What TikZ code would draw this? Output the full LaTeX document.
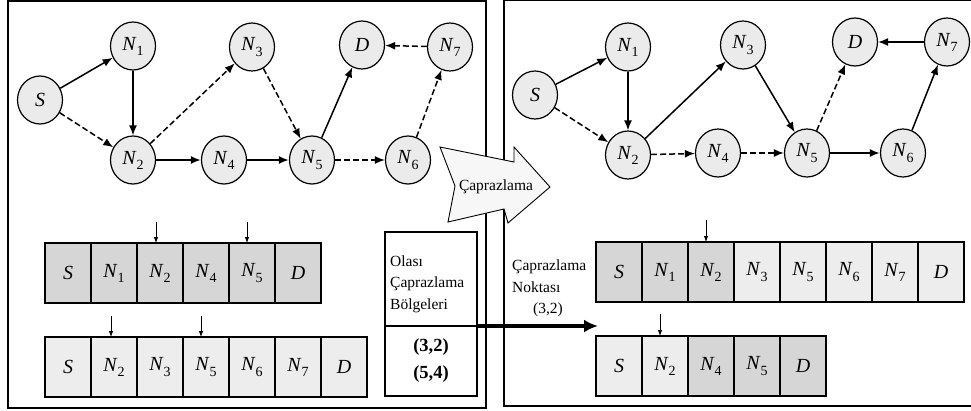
\documentclass[tikz,border=0pt]{standalone}
\usepackage{fontspec}
\setmainfont{Liberation Serif}
\usetikzlibrary{shapes.geometric,arrows.meta,calc}
\newcommand{\nn}[1]{\textit{N}\kern0.2pt\raisebox{-0.55ex}{\fontsize{14}{14}\selectfont #1}}
\newcommand{\lt}[1]{\textit{#1}}
\tikzset{
  gnode/.style={ellipse, draw, line width=1.2pt, fill=black!8, minimum width=45pt, minimum height=48pt, inner sep=0pt, font=\fontsize{20}{20}\selectfont},
  sol/.style={line width=1.5pt, -{Latex[length=10pt,width=8pt]}},
  dsh/.style={sol, dash pattern=on 6pt off 3pt},
  cellA/.style={draw, line width=1.2pt, fill=black!16, minimum width=46pt, minimum height=60pt, inner sep=0pt, outer sep=0pt, font=\fontsize{20}{20}\selectfont},
  cellB/.style={cellA, fill=black!7},
  ptr/.style={line width=0.8pt, -{Latex[length=6pt,width=4.5pt]}},
  panel/.style={draw, line width=1.2pt},
  txt/.style={font=\fontsize{15.5}{21.5}\selectfont, inner sep=0pt},
}
\begin{document}
\begin{tikzpicture}[x=1pt,y=-1pt]
\useasboundingbox (0,0) rectangle (971,410);
% panels
\draw[panel] (8,1) rectangle (486,408);
\draw[panel] (504,0) -- (504,406) -- (975,406);
\draw[panel] (504,0) -- (975,0);

% left graph
\node[gnode] (lS)  at (40,100)  {\lt{S}};
\node[gnode] (lN1) at (133,46)  {\nn{1}};
\node[gnode] (lN3) at (252,47)  {\nn{3}};
\node[gnode] (lD)  at (362,45)  {\lt{D}};
\node[gnode] (lN7) at (450,47)  {\nn{7}};
\node[gnode] (lN2) at (133,160) {\nn{2}};
\node[gnode] (lN4) at (224,160) {\nn{4}};
\node[gnode] (lN5) at (312,160) {\nn{5}};
\node[gnode] (lN6) at (408,160) {\nn{6}};
\draw[sol] (lS) -- (lN1);
\draw[sol] (lN1) -- (lN2);
\draw[dsh] (lS) -- (lN2);
\draw[dsh] (lN2) -- (lN3);
\draw[dsh] (lN3) -- (lN5);
\draw[sol, line width=1.8pt] (lN2) -- (lN4);
\draw[sol, line width=1.8pt] (lN4) -- (lN5);
\draw[sol] (lN5) -- (lD);
\draw[dsh] (lN5) -- (lN6);
\draw[dsh] (lN6) -- (lN7);
\draw[dsh] (lN7) -- (lD);

% right graph
\node[gnode] (rS)  at (535,95)  {\lt{S}};
\node[gnode] (rN1) at (628,47)  {\nn{1}};
\node[gnode] (rN3) at (743,45)  {\nn{3}};
\node[gnode] (rD)  at (855,42)  {\lt{D}};
\node[gnode] (rN7) at (947,42)  {\nn{7}};
\node[gnode] (rN2) at (628,155) {\nn{2}};
\node[gnode] (rN4) at (718,153) {\nn{4}};
\node[gnode] (rN5) at (807,153) {\nn{5}};
\node[gnode] (rN6) at (903,153) {\nn{6}};
\draw[sol] (rS) -- (rN1);
\draw[sol] (rN1) -- (rN2);
\draw[dsh] (rS) -- (rN2);
\draw[sol] (rN2) -- (rN3);
\draw[sol] (rN3) -- (rN5);
\draw[dsh] (rN2) -- (rN4);
\draw[dsh] (rN4) -- (rN5);
\draw[dsh] (rN5) -- (rD);
\draw[sol, line width=1.8pt] (rN5) -- (rN6);
\draw[sol] (rN6) -- (rN7);
\draw[sol] (rN7) -- (rD);

% big crossover arrow
\draw[line width=0.9pt, fill=black!3] (440,147) -- (514,162) -- (514,147) -- (550,187) -- (508,223) -- (504,209) -- (448,222) -- (455,186) -- cycle;
\node[txt] (lbl) at (496,187) {Çaprazlama};

% left tables
\node[cellA] (a1) at (68,273)  {\lt{S}};
\node[cellA] (a2) at (114,273) {\nn{1}};
\node[cellA] (a3) at (160,273) {\nn{2}};
\node[cellA] (a4) at (206,273) {\nn{4}};
\node[cellA] (a5) at (252,273) {\nn{5}};
\node[cellA] (a6) at (298,273) {\lt{D}};
\node[cellB] (b1) at (68,367)  {\lt{S}};
\node[cellB] (b2) at (114,367) {\nn{2}};
\node[cellB] (b3) at (160,367) {\nn{3}};
\node[cellB] (b4) at (206,367) {\nn{5}};
\node[cellB] (b5) at (252,367) {\nn{6}};
\node[cellB] (b6) at (298,367) {\nn{7}};
\node[cellB] (b7) at (344,367) {\lt{D}};
\draw[ptr] ($(a3.north)+(-4,-21)$) -- ([xshift=-4pt]a3.north);
\draw[ptr] ($(a5.north)+(-5,-21)$) -- ([xshift=-5pt]a5.north);
\draw[ptr] ($(b2.north)+(-3,-21)$) -- ([xshift=-3pt]b2.north);
\draw[ptr] ($(b4.north)+(-5,-21)$) -- ([xshift=-5pt]b4.north);

% crossover regions box
\node[draw, line width=1.2pt, minimum width=92pt, minimum height=94pt, inner sep=0pt, outer sep=0pt] (reg) at (431,279) {};
\node[draw, line width=1.2pt, minimum width=92pt, minimum height=70pt, inner sep=0pt, outer sep=0pt] (regv) at (431,361) {};
\node[txt, align=left, anchor=west] (regt) at (390,284) {Olası\\Çaprazlama\\Bölgeleri};
\node[font=\fontsize{18.5}{27}\selectfont\bfseries, align=center, inner sep=0pt] (regn) at (431,361) {(3,2)\\(5,4)};

% thick arrow
\coordinate (tipA) at (598,326);
\draw[line width=3.6pt, -{Latex[length=14pt,width=13pt]}] (reg.south east) -- (tipA);
\node[txt, align=left, anchor=west] (nok) at (512,276) {Çaprazlama\\Noktası};
\node[txt] (nokv) at (548,310) {(3,2)};

% right tables
\node[cellA] (c1) at (619,272) {\lt{S}};
\node[cellA] (c2) at (665,272) {\nn{1}};
\node[cellA] (c3) at (711,272) {\nn{2}};
\node[cellB] (c4) at (757,272) {\nn{3}};
\node[cellB] (c5) at (803,272) {\nn{5}};
\node[cellB] (c6) at (849,272) {\nn{6}};
\node[cellB] (c7) at (895,272) {\nn{7}};
\node[cellB] (c8) at (941,272) {\lt{D}};
\node[cellB] (d1) at (619,366) {\lt{S}};
\node[cellB] (d2) at (665,366) {\nn{2}};
\node[cellA] (d3) at (711,366) {\nn{4}};
\node[cellA] (d4) at (757,366) {\nn{5}};
\node[cellA] (d5) at (803,366) {\lt{D}};
\draw[ptr] ($(c3.north)+(-5,-22)$) -- ([xshift=-5pt]c3.north);
\draw[ptr] ($(d2.north)+(-5,-22)$) -- ([xshift=-5pt]d2.north);
\end{tikzpicture}
\end{document}
